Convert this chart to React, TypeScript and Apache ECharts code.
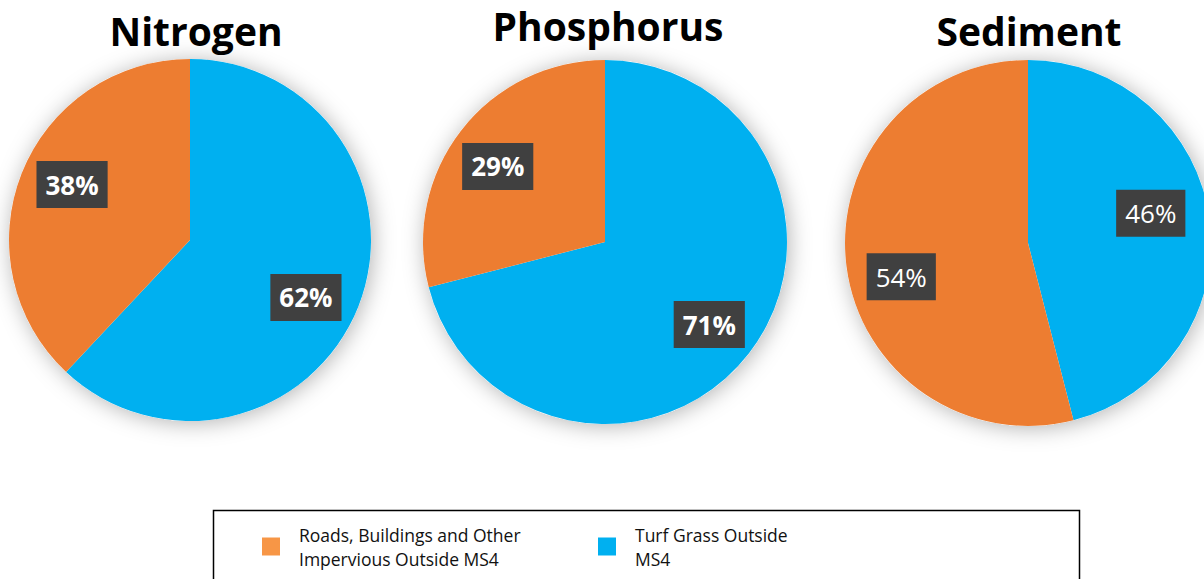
import React, { useEffect, useRef } from "react";
import * as echarts from "echarts";

const categories = ["Roads, Buildings and Other Impervious Outside MS4", "Turf Grass Outside MS4"];
const legendLabels = ["Roads, Buildings and Other\nImpervious Outside MS4", "Turf Grass Outside\nMS4"];
const pollutants = ["Nitrogen", "Phosphorus", "Sediment"];
const roadsValues = [38, 29, 54];
const turfValues = [62, 71, 46];

const ORANGE = "#ED7D31";
const BLUE = "#00B0F0";
const FONT = "'Open Sans', sans-serif";

// layout constants
const centers = [[190, 240], [605, 242], [1028, 243]];
const radii = [181, 182, 183];
const titleX = [196, 608, 1029];
const titleY = [30, 25, 30];
const boldLabels = [true, true, false];
// label offsets [turf, roads]
const labelOffsets = [
  [[29, 23], [-31, -21]],
  [[30, 25], [-33, -18]],
  [[29, -18], [-33, 22]],
];

export default function App() {
  const ref = useRef<HTMLDivElement>(null);
  useEffect(() => {
    if (!ref.current) return;
    const chart = echarts.init(ref.current, null, { renderer: "svg" });
    const series: any[] = [];
    pollutants.forEach((p, i) => {
      series.push({
        type: "pie",
        name: p + "-shadow",
        silent: true,
        z: 1,
        center: centers[i],
        radius: radii[i],
        label: { show: false },
        labelLine: { show: false },
        itemStyle: {
          color: "#ffffff",
          shadowBlur: 22,
          shadowColor: "rgba(0,0,0,0.3)",
          shadowOffsetX: 2,
          shadowOffsetY: 2,
        },
        emphasis: { disabled: true },
        tooltip: { show: false },
        data: [{ value: 1, name: "__bg" + i }],
      });
      series.push({
        type: "pie",
        name: p,
        z: 2,
        center: centers[i],
        radius: radii[i],
        startAngle: 90,
        clockwise: true,
        avoidLabelOverlap: false,
        emphasis: { disabled: true },
        labelLine: { show: false },
        label: {
          show: true,
          position: "inside",
          formatter: "{c}%",
          color: "#ffffff",
          fontFamily: FONT,
          fontSize: 26,
          fontWeight: boldLabels[i] ? "bold" : "normal",
          backgroundColor: "#404040",
          padding: [8, 9, 7, 9],
          lineHeight: 32,
        },
        data: [
          {
            value: turfValues[i],
            name: categories[1],
            itemStyle: { color: BLUE },
            label: { offset: labelOffsets[i][0] },
          },
          {
            value: roadsValues[i],
            name: categories[0],
            itemStyle: { color: ORANGE },
            label: { offset: labelOffsets[i][1] },
          },
        ],
      });
    });

    const legendCommon = {
      orient: "horizontal",
      top: 521,
      itemWidth: 18,
      itemHeight: 18,
      itemGap: 20,
      icon: "rect",
      selectedMode: false,
      formatter: (name: string) => legendLabels[categories.indexOf(name)],
      textStyle: {
        fontFamily: FONT,
        fontSize: 17.5,
        color: "#111111",
        lineHeight: 24,
        padding: [3, 0, 0, 14],
      },
      padding: 0,
    };

    chart.setOption({
      animation: false,
      backgroundColor: "#ffffff",
      legend: [
        { ...legendCommon, left: 262, data: [{ name: categories[0], itemStyle: { color: "#F79646" } }] },
        { ...legendCommon, left: 598, data: [{ name: categories[1], itemStyle: { color: BLUE } }] },
      ],
      graphic: [
        ...pollutants.map((p, i) => ({
          type: "text",
          x: titleX[i],
          y: titleY[i],
          z: 10,
          style: {
            text: p,
            fontFamily: FONT,
            fontSize: 39,
            fontWeight: "bold",
            fill: "#000000",
            textAlign: "center",
            textVerticalAlign: "middle",
          },
        })),
        {
          type: "rect",
          shape: { x: 213.5, y: 510.5, width: 866, height: 80 },
          style: { fill: "none", stroke: "#000000", lineWidth: 1.5 },
          silent: true,
        },
      ],
      series,
    });
    return () => chart.dispose();
  }, []);
  return (
    <div
      ref={ref}
      style={{ position: "fixed", left: 0, top: 0, width: 1204, height: 579 }}
    />
  );
}
